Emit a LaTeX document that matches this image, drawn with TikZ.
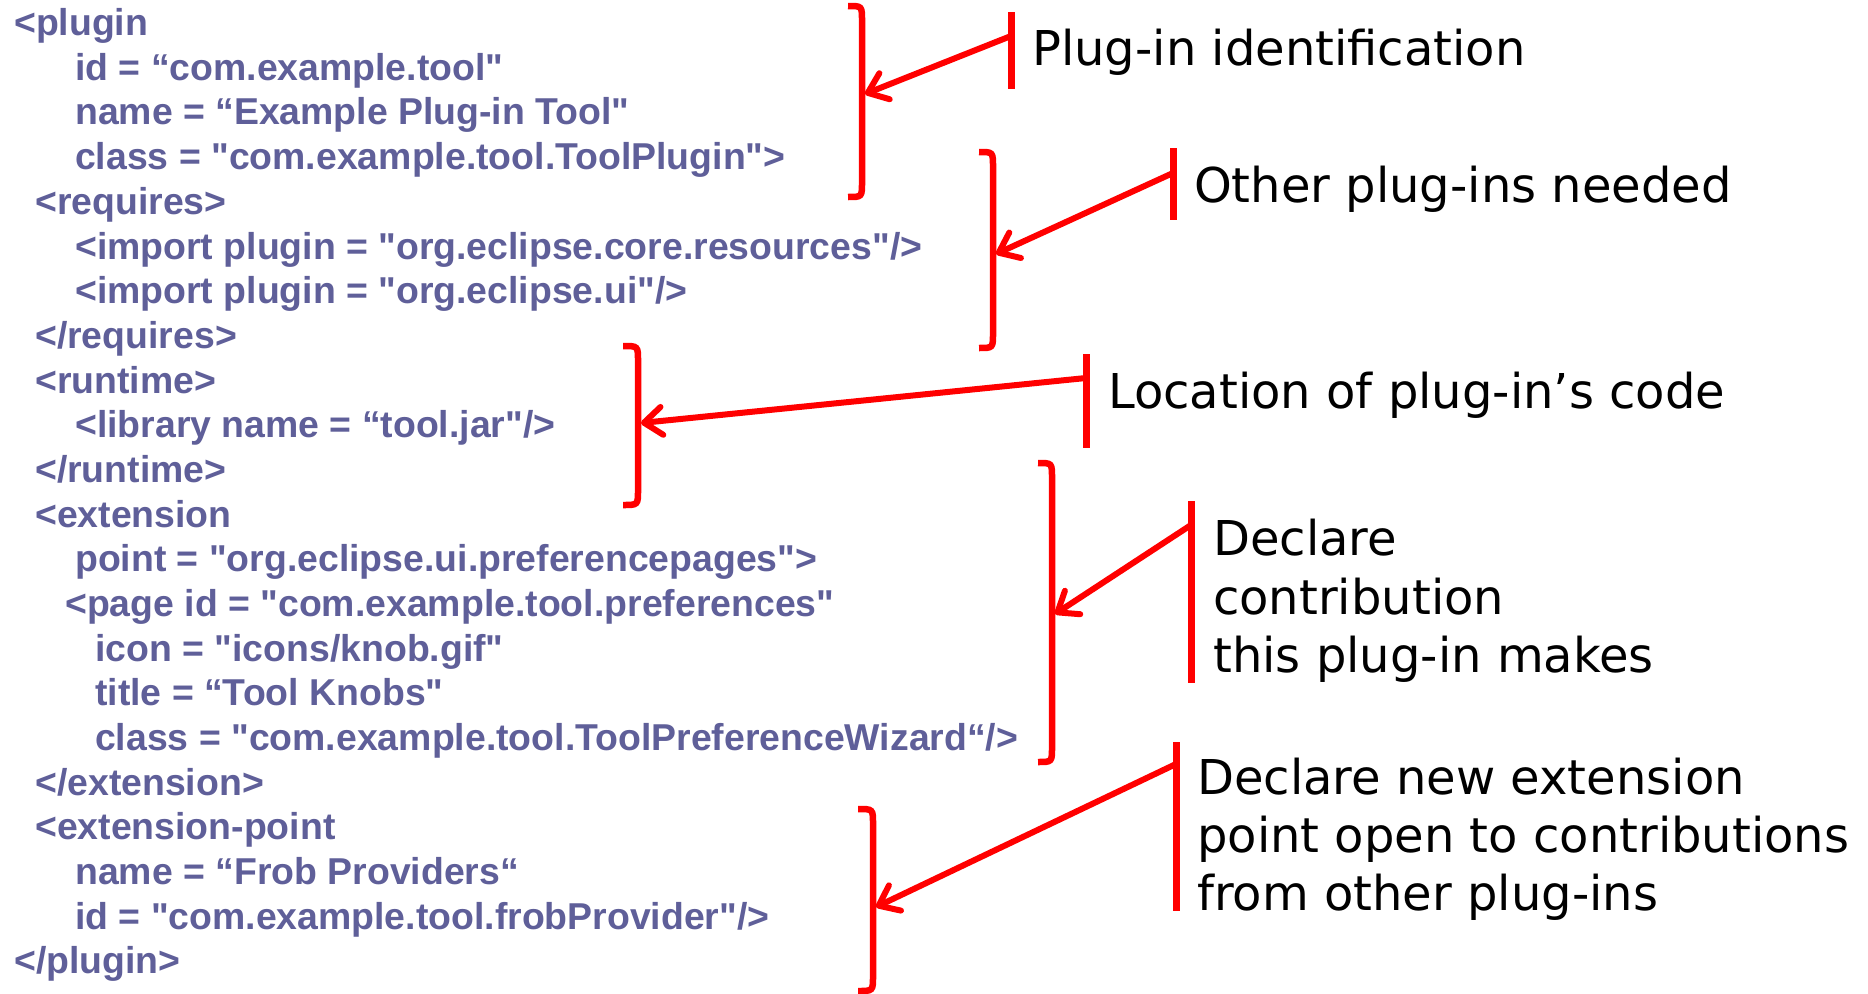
\documentclass[tikz,border=0pt]{standalone}
\usepackage{fontspec}
\usetikzlibrary{arrows.meta}
\newfontfamily\codefont{Liberation Sans}[Ligatures=TeXOff]
\newfontfamily\notefont{DejaVu Sans}[Ligatures=TeXOff]
\definecolor{codecol}{RGB}{95,95,153}
\definecolor{markred}{RGB}{255,0,0}
\begin{document}
\begin{tikzpicture}[x=1pt,y=-1pt,
  code/.style={anchor=base west, inner sep=0pt, text=codecol, font=\codefont\bfseries\fontsize{37.4}{44}\selectfont},
  note/.style={anchor=base west, inner sep=0pt, text=black, font=\notefont\fontsize{48}{58}\selectfont},
  brk/.style={draw=markred, line width=6.5pt, line cap=butt},
  tbar/.style={draw=markred, line width=7pt},
  pointer/.style={draw=markred, line width=6pt, line cap=round, line join=round,
    -{Straight Barb[length=18pt,width=28pt,line cap=round,line join=round]}}]
\useasboundingbox (0,0) rectangle (1868,993);
\fill[white] (0,0) rectangle (1868,993);
% code lines
\node[code] (c1)  at (14,35.6)  {<plugin};
\node[code] (c2)  at (75,80.3)  {id = “com.example.tool"};
\node[code] (c3)  at (75,124.9) {name = “Example Plug-in Tool"};
\node[code] (c4)  at (75,169.6) {class = "com.example.tool.ToolPlugin">};
\node[code] (c5)  at (35,214.3) {<requires>};
\node[code] (c6)  at (75,259.0) {<import plugin = "org.eclipse.core.resources"/>};
\node[code] (c7)  at (75,303.6) {<import plugin = "org.eclipse.ui"/>};
\node[code] (c8)  at (35,348.3) {</requires>};
\node[code] (c9)  at (35,393.0) {<runtime>};
\node[code] (c10) at (75,437.6) {<library name = “tool.jar"/>};
\node[code] (c11) at (35,482.3) {</runtime>};
\node[code] (c12) at (35,527.0) {<extension};
\node[code] (c13) at (75,571.6) {point = "org.eclipse.ui.preferencepages">};
\node[code] (c14) at (65,616.3) {<page id = "com.example.tool.preferences"};
\node[code] (c15) at (95,661.0) {icon = "icons/knob.gif"};
\node[code] (c16) at (95,705.7) {title = “Tool Knobs"};
\node[code] (c17) at (95,750.3) {class = "com.example.tool.ToolPreferenceWizard“/>};
\node[code] (c18) at (35,795.0) {</extension>};
\node[code] (c19) at (35,839.7) {<extension-point};
\node[code] (c20) at (75,884.3) {name = “Frob Providers“};
\node[code] (c21) at (75,929.0) {id = "com.example.tool.frobProvider"/>};
\node[code] (c22) at (14,973.7) {</plugin>};
% notes
\node[note] (n1)  at (1032,65)   {Plug-in identification};
\node[note] (n2)  at (1194,202)  {Other plug-ins needed};
\node[note] (n3)  at (1108,408)  {Location of plug-in’s code};
\node[note] (n4a) at (1213,555.5) {Declare};
\node[note] (n4b) at (1213,614)  {contribution};
\node[note] (n4c) at (1213,672)  {this plug-in makes};
\node[note] (n5a) at (1197,794)  {Declare new extension};
\node[note] (n5b) at (1197,852)  {point open to contributions};
\node[note] (n5c) at (1197,910.5) {from other plug-ins};
% brackets
\draw[brk] (848,6) .. controls (862,6) .. (862,21) -- (862,182) .. controls (862,197) .. (848,197);
\draw[brk] (979,152) .. controls (993,152) .. (993,167) -- (993,333) .. controls (993,348) .. (979,348);
\draw[brk] (623,346) .. controls (638,346) .. (638,361) -- (638,490) .. controls (638,505) .. (623,505);
\draw[brk] (1038,463) .. controls (1052,463) .. (1052,478) -- (1052,747) .. controls (1052,762) .. (1038,762);
\draw[brk] (858,809) .. controls (873,809) .. (873,824) -- (873,976) .. controls (873,991) .. (858,991);
% bars
\draw[tbar] (1011,12) -- (1011,89);
\draw[tbar] (1173,148) -- (1173,220);
\draw[tbar] (1086,354) -- (1086,448);
\draw[tbar] (1191,501) -- (1191,683);
\draw[tbar] (1176,742) -- (1176,911);
% arrow end points
\coordinate (s1) at (1011,36);   \coordinate (e1) at (865,94);
\coordinate (s2) at (1173,173);  \coordinate (e2) at (996,254);
\coordinate (s3) at (1086,378);  \coordinate (e3) at (641,423);
\coordinate (s4) at (1191,525);  \coordinate (e4) at (1055,614);
\coordinate (s5) at (1176,764);  \coordinate (e5) at (876,907);
\draw[pointer] (s1) -- (e1);
\draw[pointer] (s2) -- (e2);
\draw[pointer] (s3) -- (e3);
\draw[pointer] (s4) -- (e4);
\draw[pointer] (s5) -- (e5);
\end{tikzpicture}
\end{document}
